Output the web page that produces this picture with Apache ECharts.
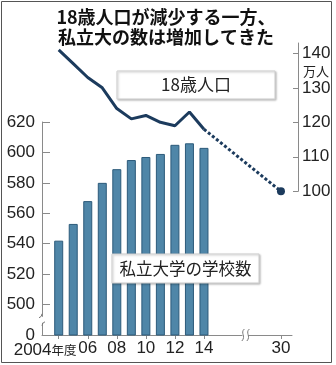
<!DOCTYPE html>
<html><head><meta charset="utf-8">
<style>html,body{margin:0;padding:0;background:#fff}#c{width:336px;height:365px}</style>
<script src="https://cdn.jsdelivr.net/npm/echarts@6.0.0/dist/echarts.min.js"></script>
</head><body><div id="c"></div>
<script>
// ---- data ----
const years = [2004, 2005, 2006, 2007, 2008, 2009, 2010, 2011, 2012, 2013, 2014];
const universities = [542, 553, 568, 580, 589, 595, 597, 599, 605, 606, 603];
const population = [141, 137, 133, 130, 124, 121, 122, 120, 119, 123, 118];
const projectionYears = [2014, 2030];
const projectionValues = [118, 100];
const xTickYears = [2004, 2006, 2008, 2010, 2012, 2014, 2030];
const xTickLabels = ['2004', '06', '08', '10', '12', '14', '30'];
const firstLabelSuffix = '年度';
const leftAxisMinLabel = '0';

// broken time axis: years between BREAK_FROM and BREAK_TO are squeezed into BREAK_GAP
const BREAK_FROM = 2016.6, BREAK_TO = 2027.8, BREAK_GAP = 0.5;
function toAxis(y) {
  if (y <= BREAK_FROM) return y;
  if (y >= BREAK_TO) return y - (BREAK_TO - BREAK_FROM) + BREAK_GAP;
  return BREAK_FROM + (y - BREAK_FROM) / (BREAK_TO - BREAK_FROM) * BREAK_GAP;
}

// font detection for narrow digits
function hasFont(name) {
  const c = document.createElement('canvas').getContext('2d');
  c.font = '40px monospace';
  const w0 = c.measureText('0123456789abc').width;
  c.font = '40px "' + name + '", monospace';
  return c.measureText('0123456789abc').width !== w0;
}
const narrow = hasFont('Liberation Sans Narrow');
const NUM = narrow ? '"Liberation Sans Narrow",sans-serif' : '"Liberation Sans",sans-serif';
const NUMSIZE = narrow ? 18 : 17;
const CJK = '"Noto Sans CJK JP",sans-serif';
const AX = '#8a8a8a';
const LINE = '#1c3b5d';

const chart = echarts.init(document.getElementById('c'), null, {renderer: 'canvas'});

function makeX(gridIndex, show) {
  const tickVals = xTickYears.map(toAxis);
  return {
    type: 'value', gridIndex: gridIndex, min: 2002.85, max: toAxis(2030.76),
    show: show,
    splitLine: {show: false},
    axisLine: {show: show, onZero: false, lineStyle: {color: AX, width: 1}},
    axisTick: {show: show, customValues: tickVals, length: 4, lineStyle: {color: AX}},
    axisLabel: {
      show: show, customValues: tickVals, margin: 5, color: '#222', hideOverlap: false,
      fontSize: NUMSIZE, fontFamily: NUM,
      formatter: function (v) {
        const i = tickVals.findIndex(t => Math.abs(t - v) < 1e-6);
        // the first label (with 年度) is drawn separately, shifted left like the original
        if (i <= 0) return '';
        return xTickLabels[i];
      }
    }
  };
}

chart.setOption({
  animation: false,
  backgroundColor: '#fff',
  grid: [
    {left: 42, right: 44, top: 122, bottom: 30},
    {left: 42, right: 44, top: 43, bottom: 173.7}
  ],
  xAxis: [makeX(0, true), makeX(1, false)],
  yAxis: [
    {
      type: 'value', gridIndex: 0, position: 'left', min: 480, max: 620, interval: 20,
      splitLine: {show: false},
      axisLine: {show: true, lineStyle: {color: AX}},
      axisTick: {show: true, inside: true, length: 8, lineStyle: {color: AX}},
      axisLabel: {
        margin: 7, fontSize: NUMSIZE, fontFamily: NUM, color: '#222', showMinLabel: true,
        formatter: function (v) { return v === 480 ? leftAxisMinLabel : String(v); }
      }
    },
    {
      type: 'value', gridIndex: 1, position: 'right', offset: 6, min: 100, max: 143, interval: 10,
      splitLine: {show: false},
      axisLine: {show: true, lineStyle: {color: AX}},
      axisTick: {show: true, inside: true, length: 5, lineStyle: {color: AX}},
      axisLabel: {margin: 4, fontSize: NUMSIZE, fontFamily: NUM, color: '#222', showMinLabel: true}
    }
  ],
  series: [
    {
      type: 'bar', xAxisIndex: 0, yAxisIndex: 0, barWidth: 9,
      itemStyle: {color: '#4f86a8', borderColor: '#2c5a7a', borderWidth: 1},
      data: years.map((y, i) => [toAxis(y), universities[i]])
    },
    {
      type: 'line', xAxisIndex: 1, yAxisIndex: 1, symbol: 'none', z: 5,
      lineStyle: {color: LINE, width: 3},
      data: years.map((y, i) => [toAxis(y), population[i]])
    },
    {
      type: 'line', xAxisIndex: 1, yAxisIndex: 1, z: 5,
      symbol: 'circle', showSymbol: true,
      symbolSize: function (val, p) { return p.dataIndex === projectionYears.length - 1 ? 8 : 0; },
      itemStyle: {color: LINE},
      lineStyle: {color: LINE, width: 3, type: [3, 2.2], cap: 'butt'},
      data: projectionYears.map((y, i) => [toAxis(y), projectionValues[i]])
    }
  ]
});

const cx = chart.convertToPixel({xAxisIndex: 0}, BREAK_FROM + BREAK_GAP / 2);
const ax = chart.convertToPixel({xAxisIndex: 0}, 2002.85);
const p04 = chart.convertToPixel({xAxisIndex: 0}, toAxis(xTickYears[0]));
const ay = chart.convertToPixel({yAxisIndex: 0}, 480);
const by = chart.convertToPixel({yAxisIndex: 0}, 490);

function sCurve(x, y) {
  return {type: 'bezierCurve', z: 101,
    shape: {x1: x + 1.5, y1: y - 6, cpx1: x - 3, cpy1: y - 2, cpx2: x + 3.5, cpy2: y + 1, x2: x - 1, y2: y + 6},
    style: {fill: 'none', stroke: '#777', lineWidth: 1}};
}
const brk = {fill: 'none', stroke: '#777', lineWidth: 1};

chart.setOption({
  graphic: [
    {type: 'rect', z: 100, shape: {x: 1.5, y: 1.5, width: 330, height: 361}, style: {fill: 'none', stroke: '#555', lineWidth: 1}},
    {type: 'text', z: 100, style: {text: '18歳人口が減少する一方、\n私立大の数は増加してきた', x: 166, y: 7, align: 'center', verticalAlign: 'top',
      fontSize: 18, fontWeight: 'bold', fontFamily: CJK, lineHeight: 20, fill: '#111'}},
    {type: 'rect', z: 100, shape: {x: 117, y: 71, width: 158, height: 28},
      style: {fill: '#fff', stroke: '#cfcfcf', lineWidth: 1, shadowBlur: 2, shadowColor: 'rgba(0,0,0,0.25)', shadowOffsetX: 1, shadowOffsetY: 1}},
    {type: 'text', z: 101, style: {text: '18歳人口', x: 196, y: 85, align: 'center', verticalAlign: 'middle', fontSize: 17, fontFamily: CJK, fill: '#222'}},
    {type: 'rect', z: 100, shape: {x: 112, y: 254, width: 147, height: 29},
      style: {fill: '#fff', stroke: '#cfcfcf', lineWidth: 1, shadowBlur: 2, shadowColor: 'rgba(0,0,0,0.25)', shadowOffsetX: 1, shadowOffsetY: 1}},
    {type: 'text', z: 101, style: {text: '私立大学の学校数', x: 185.5, y: 269, align: 'center', verticalAlign: 'middle', fontSize: 16.5, fontFamily: CJK, fill: '#222'}},
    {type: 'text', z: 100, style: {text: '万人', x: 316, y: 71, align: 'center', verticalAlign: 'middle', fontSize: 13, fontFamily: CJK, fill: '#222'}},
    // first x label "2004年度"
    {type: 'text', z: 100, style: {text: '{a|' + xTickLabels[0] + '}{b|' + firstLabelSuffix + '}', x: p04 - 45, y: ay + 15.5,
      align: 'left', verticalAlign: 'middle',
      rich: {a: {fontSize: NUMSIZE, fontFamily: NUM, fill: '#222'}, b: {fontSize: 12.5, fontFamily: CJK, fill: '#222'}}}},
    // x-axis break mark
    {type: 'rect', z: 100, shape: {x: cx - 3, y: ay - 2, width: 6, height: 4}, style: {fill: '#fff'}},
    sCurve(cx - 2.5, ay),
    sCurve(cx + 2.5, ay),
    // y-axis break mark
    {type: 'rect', z: 100, shape: {x: ax - 2, y: by - 3, width: 4, height: 6}, style: {fill: '#fff'}},
    {type: 'bezierCurve', z: 101, shape: {x1: ax, y1: by - 6, cpx1: ax, cpy1: by - 3, x2: ax - 3, y2: by - 2}, style: brk},
    {type: 'bezierCurve', z: 101, shape: {x1: ax + 3, y1: by + 2, cpx1: ax, cpy1: by + 3, x2: ax, y2: by + 6}, style: brk}
  ]
});
</script></body></html>
